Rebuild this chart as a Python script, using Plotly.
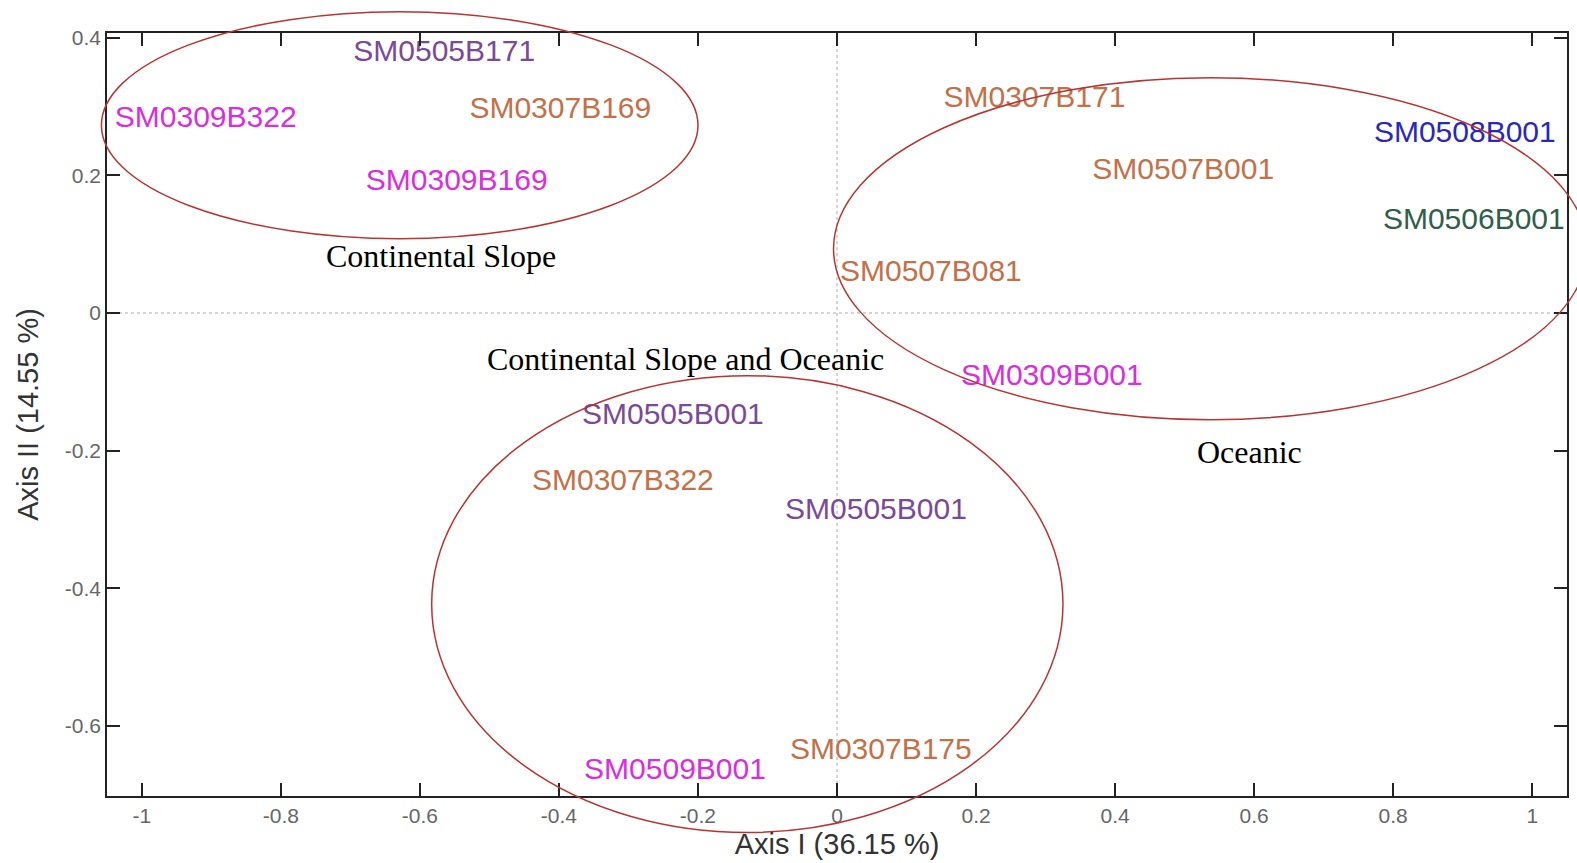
import plotly.graph_objects as go

# ---- data (label positions in PCA axes) ----
labels = ["SM0505B171", "SM0309B322", "SM0307B169", "SM0309B169",
          "SM0307B171", "SM0508B001", "SM0507B001", "SM0506B001",
          "SM0507B081", "SM0309B001", "SM0505B001", "SM0307B322",
          "SM0505B001", "SM0307B175", "SM0509B001"]
axis1 = [-0.565, -0.908, -0.398, -0.547,
         0.284, 0.903, 0.498, 0.916,
         0.135, 0.309, -0.236, -0.308,
         0.056, 0.063, -0.233]
axis2 = [0.377, 0.281, 0.294, 0.190,
         0.310, 0.259, 0.205, 0.133,
         0.058, -0.094, -0.151, -0.247,
         -0.288, -0.637, -0.666]
cruise_colors = {"SM0505": "#7a4a98", "SM0309": "#d82edc", "SM0307": "#c47048",
                 "SM0507": "#c47048", "SM0508": "#2828c0", "SM0506": "#2f5f4b",
                 "SM0509": "#d82edc"}

xticks = [-1, -0.8, -0.6, -0.4, -0.2, 0, 0.2, 0.4, 0.6, 0.8, 1]
xticklabels = ["-1", "-0.8", "-0.6", "-0.4", "-0.2", "0", "0.2", "0.4", "0.6", "0.8", "1"]
yticks = [0.4, 0.2, 0, -0.2, -0.4, -0.6]
yticklabels = ["0.4", "0.2", "0", "-0.2", "-0.4", "-0.6"]

# group ellipses: (x0, x1, y0, y1) in axis units, and group names
group_names = ["Continental Slope", "Oceanic", "Continental Slope and Oceanic"]
ell_x0 = [-1.058, -0.005, -0.583]
ell_x1 = [-0.200, 1.079, 0.325]
ell_y0 = [0.108, -0.155, -0.755]
ell_y1 = [0.438, 0.342, -0.091]
name_x = [-0.570, 0.594, -0.218]
name_y = [0.083, -0.202, -0.067]

xrange_ = [-1.05, 1.05]
yrange_ = [-0.702, 0.407]

def px(v):
    return (v - xrange_[0]) / (xrange_[1] - xrange_[0])

def py(v):
    return (v - yrange_[0]) / (yrange_[1] - yrange_[0])

colors = [cruise_colors[l[:6]] for l in labels]

fig = go.Figure()
fig.add_trace(go.Scatter(
    x=axis1, y=axis2, mode="text", text=labels,
    textposition="middle center",
    textfont=dict(family="Liberation Sans, Arial, sans-serif", size=30, color=colors),
    hoverinfo="text", showlegend=False, cliponaxis=False))

shapes = [
    dict(type="line", xref="x", yref="paper", x0=0, x1=0, y0=0, y1=1,
         line=dict(color="#c8c8c8", width=1.5, dash="dot"), layer="below"),
    dict(type="line", xref="paper", yref="y", x0=0, x1=1, y0=0, y1=0,
         line=dict(color="#c8c8c8", width=1.5, dash="dot"), layer="below"),
]
for i in range(len(group_names)):
    shapes.append(dict(type="circle", xref="paper", yref="paper",
                       x0=px(ell_x0[i]), x1=px(ell_x1[i]),
                       y0=py(ell_y0[i]), y1=py(ell_y1[i]),
                       line=dict(color="#b83434", width=1.5)))

annotations = []
for i in range(len(group_names)):
    annotations.append(dict(x=px(name_x[i]), y=py(name_y[i]), xref="paper", yref="paper",
                            xanchor="center", yanchor="middle",
                            text=group_names[i], showarrow=False,
                            font=dict(family="Liberation Serif, Times New Roman, serif",
                                      size=32, color="black")))

axis_common = dict(showgrid=False, zeroline=False, showline=True, linecolor="#222",
                   linewidth=1.5, mirror="ticks", ticks="inside", ticklen=13,
                   tickwidth=1.5, tickcolor="#222",
                   tickfont=dict(family="Liberation Sans, Arial, sans-serif", size=21, color="#666"))

fig.update_layout(
    width=1577, height=863,
    margin=dict(l=107, r=8, t=33, b=63),
    paper_bgcolor="white", plot_bgcolor="white",
    shapes=shapes, annotations=annotations,
    xaxis=dict(range=xrange_, tickvals=xticks, ticktext=xticklabels,
               title=dict(text="Axis I (36.15 %)", standoff=8,
                          font=dict(family="Liberation Sans, Arial, sans-serif", size=29, color="#333")),
               **axis_common),
    yaxis=dict(range=yrange_, tickvals=yticks, ticktext=yticklabels,
               title=dict(text="Axis II (14.55 %)", standoff=18,
                          font=dict(family="Liberation Sans, Arial, sans-serif", size=29, color="#333")),
               **axis_common),
)

fig.write_html("out.html")
